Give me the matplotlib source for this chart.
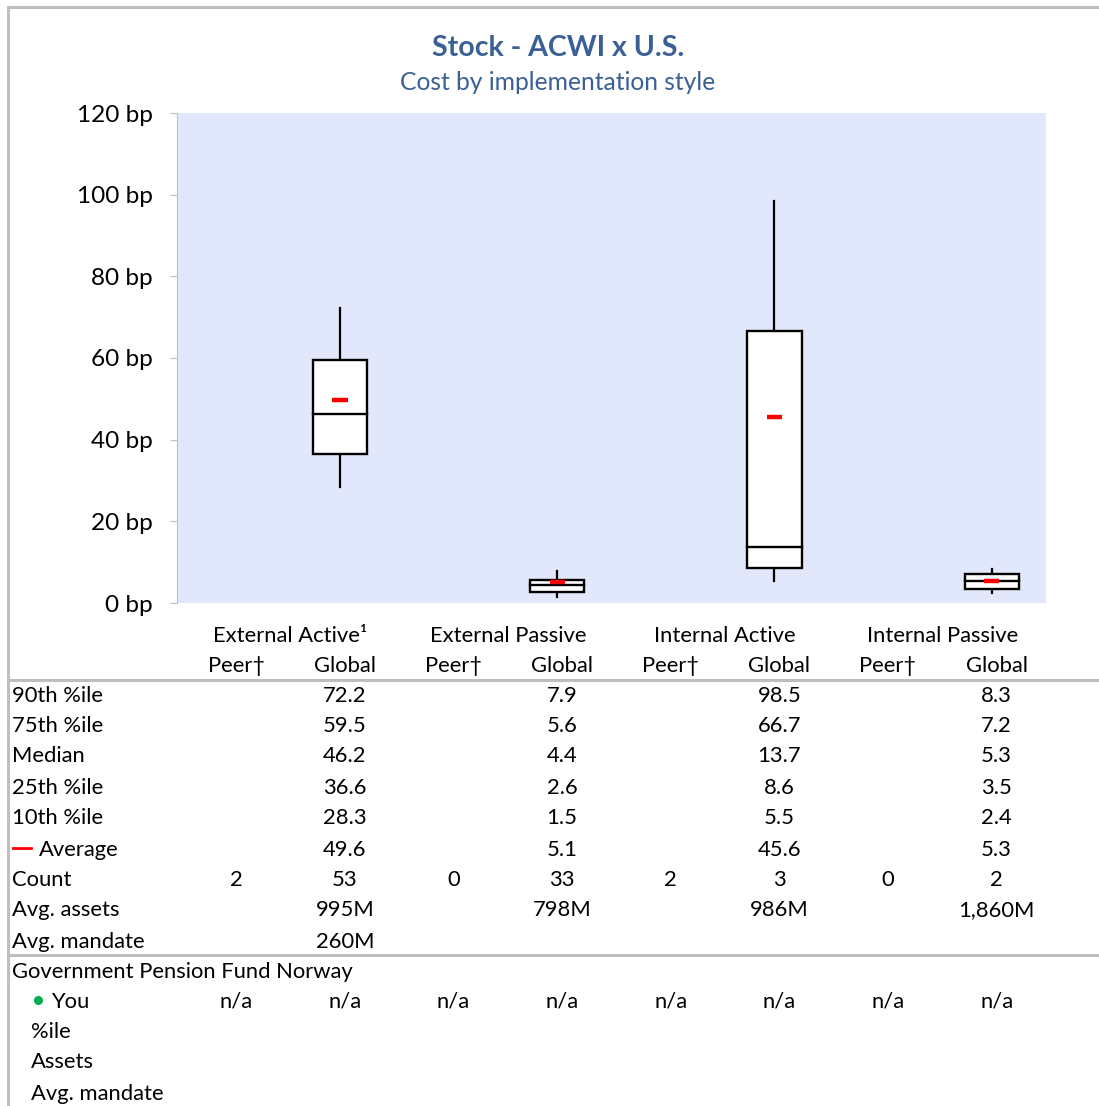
import matplotlib
matplotlib.use("Agg")
import matplotlib.pyplot as plt
from matplotlib.patches import Rectangle
from matplotlib.lines import Line2D
import matplotlib.transforms as mtrans

# ---------------- data ----------------
categories = ["External Active\u00b9", "External Passive", "Internal Active", "Internal Passive"]
sub_columns = ["Peer\u2020", "Global"]
p90 = [72.2, 7.9, 98.5, 8.3]
p75 = [59.5, 5.6, 66.7, 7.2]
median = [46.2, 4.4, 13.7, 5.3]
p25 = [36.6, 2.6, 8.6, 3.5]
p10 = [28.3, 1.5, 5.5, 2.4]
average = [49.6, 5.1, 45.6, 5.3]
peer_count = ["2", "0", "2", "0"]
global_count = ["53", "33", "3", "2"]
avg_assets = ["995M", "798M", "986M", "1,860M"]
avg_mandate = ["260M", "", "", ""]
you_peer = ["n/a", "n/a", "n/a", "n/a"]
you_global = ["n/a", "n/a", "n/a", "n/a"]
yticks = [0, 20, 40, 60, 80, 100, 120]
title = "Stock - ACWI x U.S."
subtitle = "Cost by implementation style"
fund_name = "Government Pension Fund Norway"

# ---------------- style ----------------
FONT = ["Lato", "DejaVu Sans"]
plt.rcParams["font.family"] = FONT
W, H = 1099, 1106
TITLE_C = "#3A6096"
GRID_C = "#BFBFBF"
FS = 15.8

fig = plt.figure(figsize=(W / 100, H / 100), dpi=100)

def fx(px):
    return px / W

def fy(py):
    return 1 - py / H

# plot area
L, R, T, B = 177, 1046, 113, 603
ax = fig.add_axes([fx(L), fy(B), fx(R - L), (B - T) / H])
ax.set_facecolor("#E2E8FB")
ax.set_xlim(0, 8)
ax.set_ylim(0, 120)
for s in ["top", "right", "bottom"]:
    ax.spines[s].set_visible(False)
ax.spines["left"].set_color(GRID_C)
ax.spines["left"].set_linewidth(0.8)
ax.set_xticks([])
ax.set_yticks(yticks)
ax.set_yticklabels([f"{v} bp" for v in yticks], fontsize=17.6)
ax.tick_params(axis="y", length=5, color=GRID_C, width=0.8, pad=12.5)

half_w = 0.25
for i in range(len(categories)):
    c = 2 * i + 1.5
    ax.add_patch(Rectangle((c - half_w, p25[i]), 2 * half_w, p75[i] - p25[i],
                           facecolor="white", edgecolor="black", lw=1.7, zorder=3))
    ax.plot([c - half_w, c + half_w], [median[i], median[i]], color="black", lw=1.7, zorder=4)
    ax.plot([c, c], [p75[i], p90[i]], color="black", lw=1.6, zorder=2)
    ax.plot([c, c], [p10[i], p25[i]], color="black", lw=1.6, zorder=2)
    ax.plot([c - 0.07, c + 0.07], [average[i], average[i]], color="#FF0000", lw=3.2,
            solid_capstyle="butt", zorder=5)

# ---------------- texts ----------------
bt = mtrans.blended_transform_factory(ax.transData, fig.transFigure)
off = 0.045
dy = 1.5

fig.text(fx(558), fy(48), title, ha="center", va="center", fontsize=20.5,
         fontweight="bold", color=TITLE_C)
fig.text(fx(558), fy(82), subtitle, ha="center", va="center", fontsize=17.7,
         color=TITLE_C)

for i, cat in enumerate(categories):
    fig.text(2 * i + 1 + off, fy(634 + dy), cat, transform=bt, ha="center", va="center", fontsize=FS)
    fig.text(2 * i + 0.5 + off, fy(664 + dy), sub_columns[0], transform=bt, ha="center", va="center", fontsize=FS)
    fig.text(2 * i + 1.5 + off, fy(664 + dy), sub_columns[1], transform=bt, ha="center", va="center", fontsize=FS)

row_y = [694, 725, 755, 786, 817, 848, 878, 909, 940]
row_labels = ["90th %ile", "75th %ile", "Median", "25th %ile", "10th %ile", "Average",
              "Count", "Avg. assets", "Avg. mandate"]
global_rows = [p90, p75, median, p25, p10, average]

for r, (y, lab) in enumerate(zip(row_y, row_labels)):
    ty = fy(y + dy)
    if lab == "Average":
        fig.add_artist(Line2D([fx(13), fx(31)], [fy(y), fy(y)], color="#FF0000", lw=2))
        fig.text(fx(39), ty, lab, ha="left", va="center", fontsize=FS)
    else:
        fig.text(fx(12), ty, lab, ha="left", va="center", fontsize=FS)
    for i in range(len(categories)):
        if r < 6:
            g = f"{global_rows[r][i]:.1f}"
            p = ""
        elif lab == "Count":
            g = global_count[i]
            p = peer_count[i]
        elif lab == "Avg. assets":
            g, p = avg_assets[i], ""
        else:
            g, p = avg_mandate[i], ""
        if p:
            fig.text(2 * i + 0.5 + off, ty, p, transform=bt, ha="center", va="center", fontsize=FS)
        if g:
            fig.text(2 * i + 1.5 + off, ty, g, transform=bt, ha="center", va="center", fontsize=FS)

fig.text(fx(12), fy(970 + dy), fund_name, ha="left", va="center", fontsize=FS)
fig.add_artist(Line2D([fx(38)], [fy(1000)], marker="o", markersize=5.5, color="#00B050", lw=0))
fig.text(fx(51), fy(1000 + dy), "You", ha="left", va="center", fontsize=FS)
for i in range(len(categories)):
    fig.text(2 * i + 0.5 + off, fy(1000 + dy), you_peer[i], transform=bt, ha="center", va="center", fontsize=FS)
    fig.text(2 * i + 1.5 + off, fy(1000 + dy), you_global[i], transform=bt, ha="center", va="center", fontsize=FS)
fig.text(fx(31), fy(1030 + dy), "%ile", ha="left", va="center", fontsize=FS)
fig.text(fx(31), fy(1061 + dy), "Assets", ha="left", va="center", fontsize=FS)
fig.text(fx(31), fy(1092 + dy), "Avg. mandate", ha="left", va="center", fontsize=FS)

# ---------------- frame & separators ----------------
for y in [680, 955]:
    fig.add_artist(Line2D([fx(8), 1], [fy(y), fy(y)], color=GRID_C, lw=2.2))
fig.add_artist(Line2D([fx(8), 1], [fy(7), fy(7)], color=GRID_C, lw=2.2))
fig.add_artist(Line2D([fx(8), fx(8)], [fy(7), 0], color=GRID_C, lw=2.2))

fig.savefig("out.png", dpi=100)
